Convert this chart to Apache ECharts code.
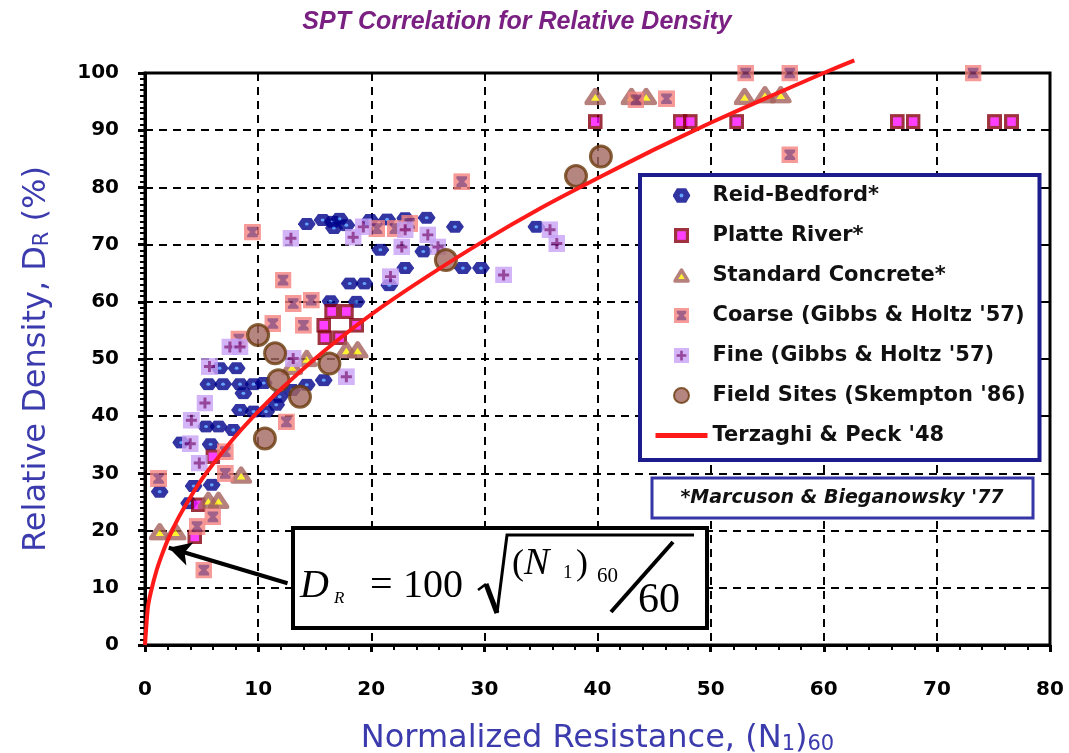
<!DOCTYPE html>
<html>
<head>
<meta charset="utf-8">
<script src="https://cdn.jsdelivr.net/npm/echarts@6/dist/echarts.min.js"></script>
<style>
  html, body { margin: 0; padding: 0; background: #fff; }
  #chart { width: 1069px; height: 753px; }
</style>
</head>
<body>
<div id="chart"></div>
<script>
// Normalized SPT resistance (N1)60 vs relative density DR (%)
const reidBedford = [[1.3,26.8],[3.2,35.4],[3.9,24.8],[4.3,27.8],[5.9,28.0],[5.4,38.2],[6.5,38.2],[7.8,37.6],[5.8,35.1],
  [5.6,45.6],[6.9,45.6],[8.4,45.6],[9.6,45.6],[10.5,45.8],[6.6,48.4],[8.1,48.4],[8.7,44.0],[11.9,43.4],[13.0,44.6],
  [14.3,45.5],[15.8,46.3],[8.4,41.1],[9.6,40.8],[10.7,40.8],[11.6,42.0],[14.3,73.6],[15.7,74.3],[16.6,74.0],[17.2,74.5],
  [16.7,72.9],[17.8,73.4],[19.9,74.3],[21.4,74.4],[23.0,74.6],[24.9,74.7],[27.4,73.1],[34.6,73.1],[20.8,69.1],[24.6,68.8],
  [23.0,65.9],[28.1,65.9],[29.7,65.9],[18.1,63.2],[19.4,63.2],[16.4,60.1],[18.7,60.0],[21.6,62.9]];
const platteRiver = [[16.5,58.3],[17.8,58.3],[15.8,55.9],[18.7,55.9],[15.9,53.7],[17.2,53.7],[6.0,32.9],[4.7,24.5],[4.4,18.9],
  [39.8,91.5],[47.3,91.5],[48.2,91.5],[52.3,91.5],[66.5,91.5],[67.9,91.5],[75.1,91.5],[76.6,91.5]];
const standardConcrete = [[1.3,19.8],[2.7,19.8],[5.6,25.3],[6.5,25.3],[8.5,29.7],[13.0,48.7],[14.3,50.1],[17.8,51.6],[18.8,51.6],
  [39.8,95.9],[43.0,95.9],[44.3,95.9],[53.0,95.9],[54.8,96.2],[56.2,96.2]];
const coarseGH = [[1.2,29.1],[4.6,20.7],[5.2,13.1],[6.0,22.4],[7.1,30.0],[7.1,33.8],[8.3,53.5],[9.5,72.2],[11.3,56.2],[12.2,63.8],
  [12.5,39.0],[13.1,59.7],[14.0,55.9],[14.7,60.3],[20.5,72.8],[22.1,72.8],[23.4,73.7],[28.0,81.0],[43.4,95.3],[46.1,95.5],
  [53.1,100],[57.0,100],[57.0,85.7],[73.2,100]];
const fineGH = [[4.0,35.2],[4.1,39.3],[4.8,31.8],[5.3,42.3],[5.7,48.7],[7.5,52.1],[8.4,52.1],[12.9,71.1],[13.1,50.1],[17.8,46.9],
  [18.4,71.3],[19.3,73.1],[21.7,64.4],[22.7,69.6],[23.0,72.6],[25.0,71.7],[25.9,69.6],[31.7,64.7],[35.8,72.6],[36.4,70.2]];
const fieldSites = [[10.0,54.2],[11.5,51.0],[11.8,46.3],[13.7,43.4],[16.3,49.2],[10.6,36.1],[26.6,67.3],[38.1,82.0],[40.3,85.4]];
// Terzaghi & Peck curve
const tpN  = [0, 0.25, 0.5, 1, 1.5, 2, 3, 4, 5, 6, 8, 10, 12, 15, 18, 21, 25, 30, 35, 40, 45, 50, 55, 60, 62.7];
const tpDR = [0, 6.5, 9.1, 12.9, 15.8, 18.3, 22.4, 25.8, 28.9, 31.6, 36.5, 40.8, 44.7, 50.0, 54.8, 59.2, 64.5, 70.7, 76.4, 81.6, 86.6, 91.3, 95.7, 100, 102.2];

const xTicks = [0, 10, 20, 30, 40, 50, 60, 70, 80];
const yTicks = [0, 10, 20, 30, 40, 50, 60, 70, 80, 90, 100];

const names = ['Reid-Bedford*', 'Platte River*', 'Standard Concrete*', "Coarse (Gibbs & Holtz '57)",
  "Fine (Gibbs & Holtz '57)", "Field Sites (Skempton '86)", "Terzaghi & Peck '48"];

// Two-colour marker glyphs drawn as small SVG images
const svgSymbol = s => 'image://data:image/svg+xml;charset=utf-8,' + encodeURIComponent(s);
const coarseIcon = svgSymbol("<svg xmlns='http://www.w3.org/2000/svg' width='32' height='32' viewBox='0 0 16 16'>" +
  "<rect width='16' height='16' fill='#f5837f'/>" +
  "<path d='M3 3H13V5.3L10.2 8L13 10.7V13H3V10.7L5.8 8L3 5.3Z' fill='#8c3a6c'/></svg>");
const fineIcon = svgSymbol("<svg xmlns='http://www.w3.org/2000/svg' width='32' height='32' viewBox='0 0 16 16'>" +
  "<rect width='16' height='16' fill='#c9a3f6'/>" +
  "<path d='M6.6 2.8H9.4V6.6H13.2V9.4H9.4V13.2H6.6V9.4H2.8V6.6H6.6Z' fill='#7c1a84'/></svg>");
const rbIcon = svgSymbol("<svg xmlns='http://www.w3.org/2000/svg' width='36' height='30' viewBox='0 0 18 15'>" +
  "<path d='M0 7.5L4.4 0.3H13.6L18 7.5L13.6 14.7H4.4Z' fill='#00028a'/>" +
  "<circle cx='9' cy='7.5' r='1.9' fill='#3d8cff'/></svg>");
const platteIcon = svgSymbol("<svg xmlns='http://www.w3.org/2000/svg' width='28' height='28' viewBox='0 0 14 14'>" +
  "<rect x='1.5' y='1.5' width='11' height='11' fill='#ff10ff' stroke='#860010' stroke-width='3'/></svg>");
const concreteIcon = svgSymbol("<svg xmlns='http://www.w3.org/2000/svg' width='40' height='36' viewBox='0 0 20 18'>" +
  "<polygon points='10,2.5 17.8,15.5 2.2,15.5' fill='#ffef00' stroke='#a5625c' stroke-width='4.4' stroke-linejoin='round'/></svg>");

const fontWide = 'DejaVu Sans';
const axisBlue = '#3b3bae';

const chart = echarts.init(document.getElementById('chart'), null, { renderer: 'canvas' });

const scatterBase = { type: 'scatter', clip: false, symbolKeepAspect: true, emphasis: { disabled: true } };

chart.setOption({
  animation: false,
  backgroundColor: '#fff',
  title: {
    text: 'SPT Correlation for Relative Density',
    left: 512, top: 5, textAlign: 'center',
    textStyle: { fontFamily: 'Liberation Sans', fontStyle: 'italic', fontWeight: 'bold', fontSize: 25, color: '#7a2082' }
  },
  grid: { left: 145, right: 19, top: 73, bottom: 108, show: true, borderColor: '#000', borderWidth: 3,
    containLabel: false, outerBoundsMode: 'none' },
  legend: {
    orient: 'vertical', left: 640, top: 175,
    itemWidth: 52, itemHeight: 15, itemGap: 19,
    padding: [10, 14, 14, 13],
    borderColor: '#1c1c8e', borderWidth: 4, backgroundColor: '#fff',
    textStyle: { fontFamily: fontWide, fontWeight: 'bold', fontSize: 21, color: '#111', lineHeight: 21 },
    data: names.slice(0, 6).concat([{ name: names[6],
      itemStyle: { color: 'rgba(0,0,0,0)', borderWidth: 0, opacity: 0 },
      lineStyle: { color: '#ff1a1a', width: 5 } }]),
    selectedMode: false
  },
  xAxis: {
    type: 'value', min: xTicks[0], max: xTicks[xTicks.length - 1], interval: 10,
    name: 'Normalized Resistance, (N{s|1}){s|60}',
    nameLocation: 'middle', nameGap: 77,
    nameTextStyle: { fontFamily: fontWide, fontSize: 32, color: axisBlue,
      rich: { s: { fontFamily: fontWide, fontSize: 21, color: axisBlue, verticalAlign: 'bottom', padding: [12, 0, 0, 0] } } },
    axisLine: { show: true, onZero: false, lineStyle: { color: '#000', width: 3 } },
    axisTick: { show: true, length: 7, lineStyle: { color: '#000', width: 3 } },
    minorTick: { show: true, splitNumber: 5, length: 5, lineStyle: { color: '#000', width: 2 } },
    splitLine: { show: true, lineStyle: { color: '#000', width: 2, type: [8, 6] } },
    axisLabel: { margin: 35, fontFamily: fontWide, fontWeight: 'bold', fontSize: 20, color: '#000' }
  },
  yAxis: {
    type: 'value', min: yTicks[0], max: yTicks[yTicks.length - 1], interval: 10,
    name: 'Relative Density, D{s|R} (%)',
    nameLocation: 'middle', nameGap: 92,
    nameTextStyle: { fontFamily: fontWide, fontSize: 32, color: axisBlue,
      rich: { s: { fontFamily: fontWide, fontSize: 21, color: axisBlue, verticalAlign: 'bottom', padding: [12, 0, 0, 0] } } },
    axisLine: { show: true, onZero: false, lineStyle: { color: '#000', width: 3 } },
    axisTick: { show: true, length: 7, lineStyle: { color: '#000', width: 3 } },
    minorTick: { show: true, splitNumber: 10, length: 5, lineStyle: { color: '#000', width: 2 } },
    splitLine: { show: true, lineStyle: { color: '#000', width: 2, type: [8, 6] } },
    axisLabel: { margin: 26, fontFamily: fontWide, fontWeight: 'bold', fontSize: 20, color: '#000' }
  },
  series: [
    Object.assign({}, scatterBase, {
      name: names[0], data: reidBedford, symbol: rbIcon, symbolSize: [18, 15]
    }),
    {
      name: names[6], type: 'line', clip: false, smooth: 0.2, symbol: 'none',
      data: tpN.map((n, i) => [n, tpDR[i]]),
      lineStyle: { color: '#ff1a1a', width: 4 }, itemStyle: { color: '#ff1a1a' },
      emphasis: { disabled: true },
      markLine: {
        silent: true, symbol: ['none', 'arrow'], symbolSize: [18, 22],
        label: { show: false },
        lineStyle: { color: '#000', width: 4, type: 'solid' },
        data: [[{ coord: [12.6, 10.8] }, { coord: [2.1, 17.0] }]]
      }
    },
    Object.assign({}, scatterBase, {
      name: names[1], data: platteRiver, symbol: platteIcon, symbolSize: 15
    }),
    Object.assign({}, scatterBase, {
      name: names[2], data: standardConcrete, symbol: concreteIcon, symbolSize: [22, 20]
    }),
    Object.assign({}, scatterBase, {
      name: names[3], data: coarseGH, symbol: coarseIcon, symbolSize: 17
    }),
    Object.assign({}, scatterBase, {
      name: names[4], data: fineGH, symbol: fineIcon, symbolSize: 17
    }),
    Object.assign({}, scatterBase, {
      name: names[5], data: fieldSites, symbol: 'circle', symbolSize: 21,
      itemStyle: { color: '#a3675f', borderColor: '#6a3a0c', borderWidth: 3 }
    })
  ],
  graphic: [
    // Equation panel
    { type: 'rect', z: 100, shape: { x: 293, y: 528, width: 414, height: 100 },
      style: { fill: '#fff', stroke: '#000', lineWidth: 4 } },
    { type: 'text', z: 101, x: 300, y: 586, style: { text: 'D', font: 'italic 40px "Liberation Serif"', fill: '#000', verticalAlign: 'middle' } },
    { type: 'text', z: 101, x: 334, y: 599, style: { text: 'R', font: 'italic 17px "Liberation Serif"', fill: '#000', verticalAlign: 'middle' } },
    { type: 'text', z: 101, x: 370, y: 586, style: { text: '=', font: '40px "Liberation Serif"', fill: '#000', verticalAlign: 'middle' } },
    { type: 'text', z: 101, x: 403, y: 586, style: { text: '100', font: '40px "Liberation Serif"', fill: '#000', verticalAlign: 'middle' } },
    { type: 'polyline', z: 101, shape: { points: [[478, 590], [486, 584]] }, style: { stroke: '#000', lineWidth: 2.5, fill: null } },
    { type: 'polyline', z: 101, shape: { points: [[486, 584], [497, 613]] }, style: { stroke: '#000', lineWidth: 5, fill: null } },
    { type: 'polyline', z: 101, shape: { points: [[497, 613], [507, 535], [694, 535]] }, style: { stroke: '#000', lineWidth: 3, fill: null } },
    { type: 'text', z: 101, x: 512, y: 565, style: { text: '(', font: '36px "Liberation Serif"', fill: '#000', verticalAlign: 'middle' } },
    { type: 'text', z: 101, x: 524, y: 564, style: { text: 'N', font: 'italic 38px "Liberation Serif"', fill: '#000', verticalAlign: 'middle' } },
    { type: 'text', z: 101, x: 563, y: 573, style: { text: '1', font: '19px "Liberation Serif"', fill: '#000', verticalAlign: 'middle' } },
    { type: 'text', z: 101, x: 576, y: 565, style: { text: ')', font: '36px "Liberation Serif"', fill: '#000', verticalAlign: 'middle' } },
    { type: 'text', z: 101, x: 597, y: 576, style: { text: '60', font: '21px "Liberation Serif"', fill: '#000', verticalAlign: 'middle' } },
    { type: 'line', z: 101, shape: { x1: 611, y1: 612, x2: 673, y2: 542 }, style: { stroke: '#000', lineWidth: 4 } },
    { type: 'text', z: 101, x: 638, y: 601, style: { text: '60', font: '42px "Liberation Serif"', fill: '#000', verticalAlign: 'middle' } },
    // Source note
    { type: 'rect', z: 100, shape: { x: 652, y: 478, width: 381, height: 40 },
      style: { fill: '#fff', stroke: '#3636a8', lineWidth: 3 } },
    { type: 'text', z: 101, x: 842, y: 498, style: { text: "*Marcuson & Bieganowsky '77", font: 'italic bold 19px "DejaVu Sans"', fill: '#111', align: 'center', verticalAlign: 'middle' } }
  ]
});
</script>
</body>
</html>
